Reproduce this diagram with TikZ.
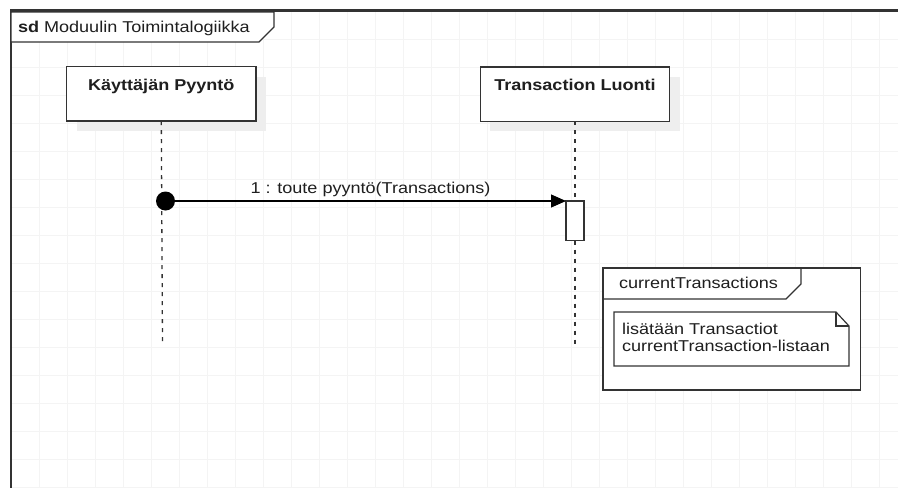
\documentclass[tikz,border=0pt]{standalone}
\usepackage{fontspec}
\setmainfont{Liberation Sans}[FakeStretch=1.15]
\usetikzlibrary{arrows.meta}
\definecolor{ink}{HTML}{333333}
\definecolor{gridc}{HTML}{F4F4F4}
\definecolor{shad}{HTML}{EEEEEE}
\begin{document}
\begin{tikzpicture}[x=1pt,y=-1pt,
  every node/.style={font=\fontsize{15.7}{17.7}\selectfont, text=black!88, inner sep=0pt, outer sep=0pt},
  lbox/.style={draw=ink, line width=1.4pt, fill=white, minimum width=189.3pt, minimum height=54.3pt},
  shadowbox/.style={fill=shad, draw=none, minimum width=189.3pt, minimum height=54.3pt},
  lifeline/.style={draw=ink, line width=1.3pt, dash pattern=on 4pt off 5pt},
  thin/.style={draw=ink, line width=1.3pt},
  msg/.style={draw=black, line width=1.2pt, -{Triangle[length=15pt,width=13pt]}}
]
\useasboundingbox (0,0) rectangle (898,488);
\fill[white] (0,0) rectangle (898,488);
% grid
\foreach \i in {1,...,31} {\draw[gridc, line width=0.8pt] (11+28*\i,11) -- (11+28*\i,488);}
\foreach \j in {1,...,17} {\draw[gridc, line width=0.8pt] (11,11+28*\j) -- (898,11+28*\j);}
% outer frame
\draw[ink, line width=1.2pt] (11,10) -- (11,488);
\draw[ink, line width=3.5pt] (10,10.3) -- (898,10.3);
% title tab
\draw[thin, fill=white, line width=1.2pt] (11,12) -- (274,12) -- (274,27) -- (259,42) -- (11,42) -- cycle;
\node[anchor=base west] (title) at (18,32) {\textbf{sd} Moduulin Toimintalogiikka};
% lifeline heads
\node[shadowbox] (ks) at (171.3,103.9) {};
\node[shadowbox] (ts) at (585,104.1) {};
\node[lbox] (k) at (161.3,93.9) {};
\node[lbox] (t) at (575,94.1) {};
\node[anchor=base, font=\fontsize{15.7}{17.7}\selectfont\bfseries] (kl) at (161.3,90) {Käyttäjän Pyyntö};
\node[anchor=base, font=\fontsize{15.7}{17.7}\selectfont\bfseries] (tl) at (575,90) {Transaction Luonti};
% activation
\node[draw=ink, line width=1.3pt, fill=white, minimum width=18pt, minimum height=39.7pt, anchor=north west] (act) at (566,201) {};
% lifelines
\coordinate (kend) at (162.5,345);
\coordinate (tend) at (575,345);
\draw[lifeline] (k.south) -- (kend);
\draw[lifeline] (t.south) -- (act.north);
\draw[lifeline] (act.south) -- (tend);
% found message
\node[circle, fill=black, minimum size=19pt] (dot) at (165.5,201) {};
\draw[msg] (dot.center) -- (act.north west);
\node[anchor=base] (ml) at (370.5,193) {1 : toute pyyntö(Transactions)};
% fragment
\draw[thin, line width=1.4pt, fill=white] (603,268) rectangle (860.7,390);
\draw[thin, line width=1.2pt] (603,299) -- (786,299) -- (801,284) -- (801,268);
\node[anchor=base west] (fl) at (619,288) {currentTransactions};
% note
\draw[thin, line width=1.2pt, fill=white] (614,312) -- (836,312) -- (849,326) -- (849,366) -- (614,366) -- cycle;
\draw[thin, line width=1.2pt] (836,312) -- (836,326) -- (849,326);
\node[anchor=base west, align=left] (nl) at (622,351.7) {lisätään Transactiot\\currentTransaction-listaan};
\end{tikzpicture}
\end{document}
